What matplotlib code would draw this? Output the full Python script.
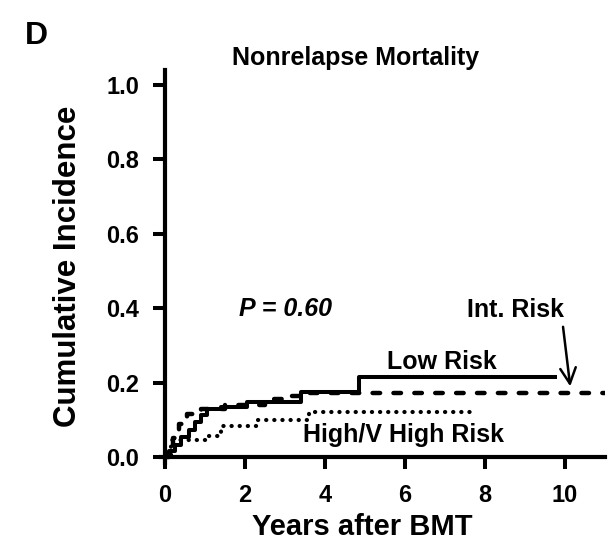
import matplotlib
matplotlib.use("Agg")
import matplotlib.pyplot as plt

plt.rcParams["font.family"] = ["Liberation Sans", "DejaVu Sans"]
plt.rcParams["font.weight"] = "bold"

# step curves (years, cumulative incidence)
low_t = [0, 0.1, 0.25, 0.4, 0.6, 0.75, 0.9, 1.05, 1.4, 2.05, 3.4, 4.85, 9.8]
low_v = [0, 0.015, 0.032, 0.055, 0.072, 0.095, 0.113, 0.128, 0.135, 0.149, 0.176, 0.215, 0.215]

int_t = [0, 0.1, 0.2, 0.35, 0.55, 0.9, 1.5, 2.5, 3.1, 3.6, 11.0]
int_v = [0, 0.02, 0.05, 0.09, 0.117, 0.13, 0.14, 0.155, 0.163, 0.173, 0.173]

high_t = [0, 0.15, 1.1, 1.4, 2.3, 3.6, 7.7]
high_v = [0, 0.046, 0.056, 0.083, 0.10, 0.12, 0.12]

x_ticks = [0, 2, 4, 6, 8, 10]
y_ticks = [0.0, 0.2, 0.4, 0.6, 0.8, 1.0]

fig = plt.figure(figsize=(6.16, 5.51), dpi=100)
ax = fig.add_axes([0.2614, 0.1604, 0.7208, 0.7124])

ax.step(low_t, low_v, where="post", color="black", lw=2.9, solid_capstyle="butt")
ax.step(int_t, int_v, where="post", color="black", lw=3.2,
        linestyle=(0, (1.7, 3.0)), dash_capstyle="round")
ax.step(high_t, high_v, where="post", color="black", lw=3.0,
        linestyle=(0, (0.05, 1.9)), dash_capstyle="round")

ax.set_xlim(-0.1, 11)
ax.set_ylim(-0.015, 1.04)
ax.spines["left"].set_position(("data", 0))
ax.spines["bottom"].set_position(("data", 0))
ax.spines["top"].set_visible(False)
ax.spines["right"].set_visible(False)
for s in ("left", "bottom"):
    ax.spines[s].set_linewidth(3.0)
ax.spines["left"].set_bounds(-0.015, 1.04)
ax.spines["bottom"].set_bounds(-0.1, 11)

ax.set_xticks(x_ticks)
ax.set_yticks(y_ticks)
ax.set_yticklabels([f"{v:.1f}" for v in y_ticks])
ax.tick_params(direction="out", length=8.5, width=2.9, labelsize=17)
ax.tick_params(axis="y", pad=10)
ax.tick_params(axis="x", pad=11)

ax.set_xlabel("Years after BMT", fontsize=21, fontweight="bold", labelpad=4)
ax.xaxis.label.set_x(0.453)
ax.set_ylabel("Cumulative Incidence", fontsize=22.5, fontweight="bold", labelpad=17)

fig.text(0.040, 0.962, "D", fontsize=23, fontweight="bold", va="top")
fig.text(0.577, 0.882, "Nonrelapse Mortality", fontsize=18, fontweight="bold",
         ha="center", va="baseline")

ax.text(3.0, 0.398, "P = 0.60", fontsize=18, fontweight="bold", style="italic",
        ha="center", va="center")
ax.text(8.75, 0.395, "Int. Risk", fontsize=18, fontweight="bold",
        ha="center", va="center")
ax.text(6.93, 0.255, "Low Risk", fontsize=18, fontweight="bold",
        ha="center", va="center")
ax.text(5.95, 0.059, "High/V High Risk", fontsize=18, fontweight="bold",
        ha="center", va="center")
ax.annotate("", xy=(10.13, 0.19), xytext=(9.95, 0.35),
            arrowprops=dict(arrowstyle="->", lw=1.8, color="black",
                            mutation_scale=28, shrinkA=0, shrinkB=0))

fig.savefig("out.png", dpi=100)
